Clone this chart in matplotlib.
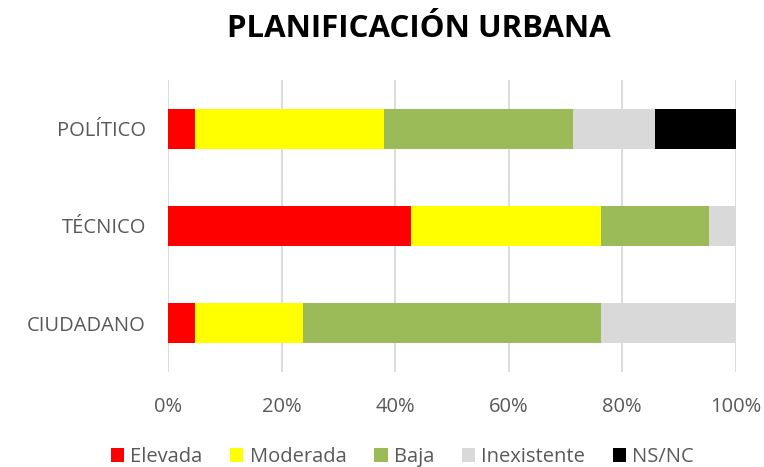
import matplotlib
matplotlib.use("Agg")
import matplotlib.pyplot as plt
import numpy as np

categorias = ["CIUDADANO", "TÉCNICO", "POLÍTICO"]
series = ["Elevada", "Moderada", "Baja", "Inexistente", "NS/NC"]
colores = ["#FF0000", "#FFFF00", "#9BBB59", "#D9D9D9", "#000000"]

# porcentajes por categoria (CIUDADANO, TÉCNICO, POLÍTICO)
elevada = [4.76, 42.86, 4.76]
moderada = [19.05, 33.33, 33.33]
baja = [52.38, 19.05, 33.33]
inexistente = [23.81, 4.76, 14.29]
nsnc = [0.0, 0.0, 14.29]

valores = [elevada, moderada, baja, inexistente, nsnc]

plt.rcParams['font.family'] = ['Open Sans', 'DejaVu Sans']

fig = plt.figure(figsize=(7.64, 4.67), dpi=100)
ax = fig.add_axes([0.22, 0.2034, 0.743, 0.6256])

y = np.arange(len(categorias))
izq = np.zeros(len(categorias))
for nombre, vals, col in zip(series, valores, colores):
    ax.barh(y, vals, left=izq, height=0.41, color=col, label=nombre, zorder=3)
    izq += np.array(vals)

ax.set_xlim(0, 100)
ax.set_ylim(-0.5, 2.5)
ax.set_xticks(np.arange(0, 101, 20))
ax.set_xticklabels([f"{v}%" for v in range(0, 101, 20)])
ax.set_yticks(y)
ax.set_yticklabels(categorias)
ax.tick_params(axis='both', length=0, labelsize=14.5, colors='#595959')
ax.tick_params(axis='x', pad=18)
ax.tick_params(axis='y', pad=16)
ax.grid(axis='x', color='#D9D9D9', linewidth=1.3, zorder=0)
for s in ax.spines.values():
    s.set_visible(False)

fig.suptitle("PLANIFICACIÓN URBANA", x=0.548, y=0.97, fontsize=22.5,
             fontweight='bold', color='black')

ax.legend(loc='upper center', bbox_to_anchor=(0.413, -0.195), ncol=5, frameon=False,
          fontsize=14.5, labelcolor='#595959', handlelength=0.65, handleheight=0.7,
          handletextpad=0.3, columnspacing=1.4)

fig.savefig("out.png", dpi=100)
